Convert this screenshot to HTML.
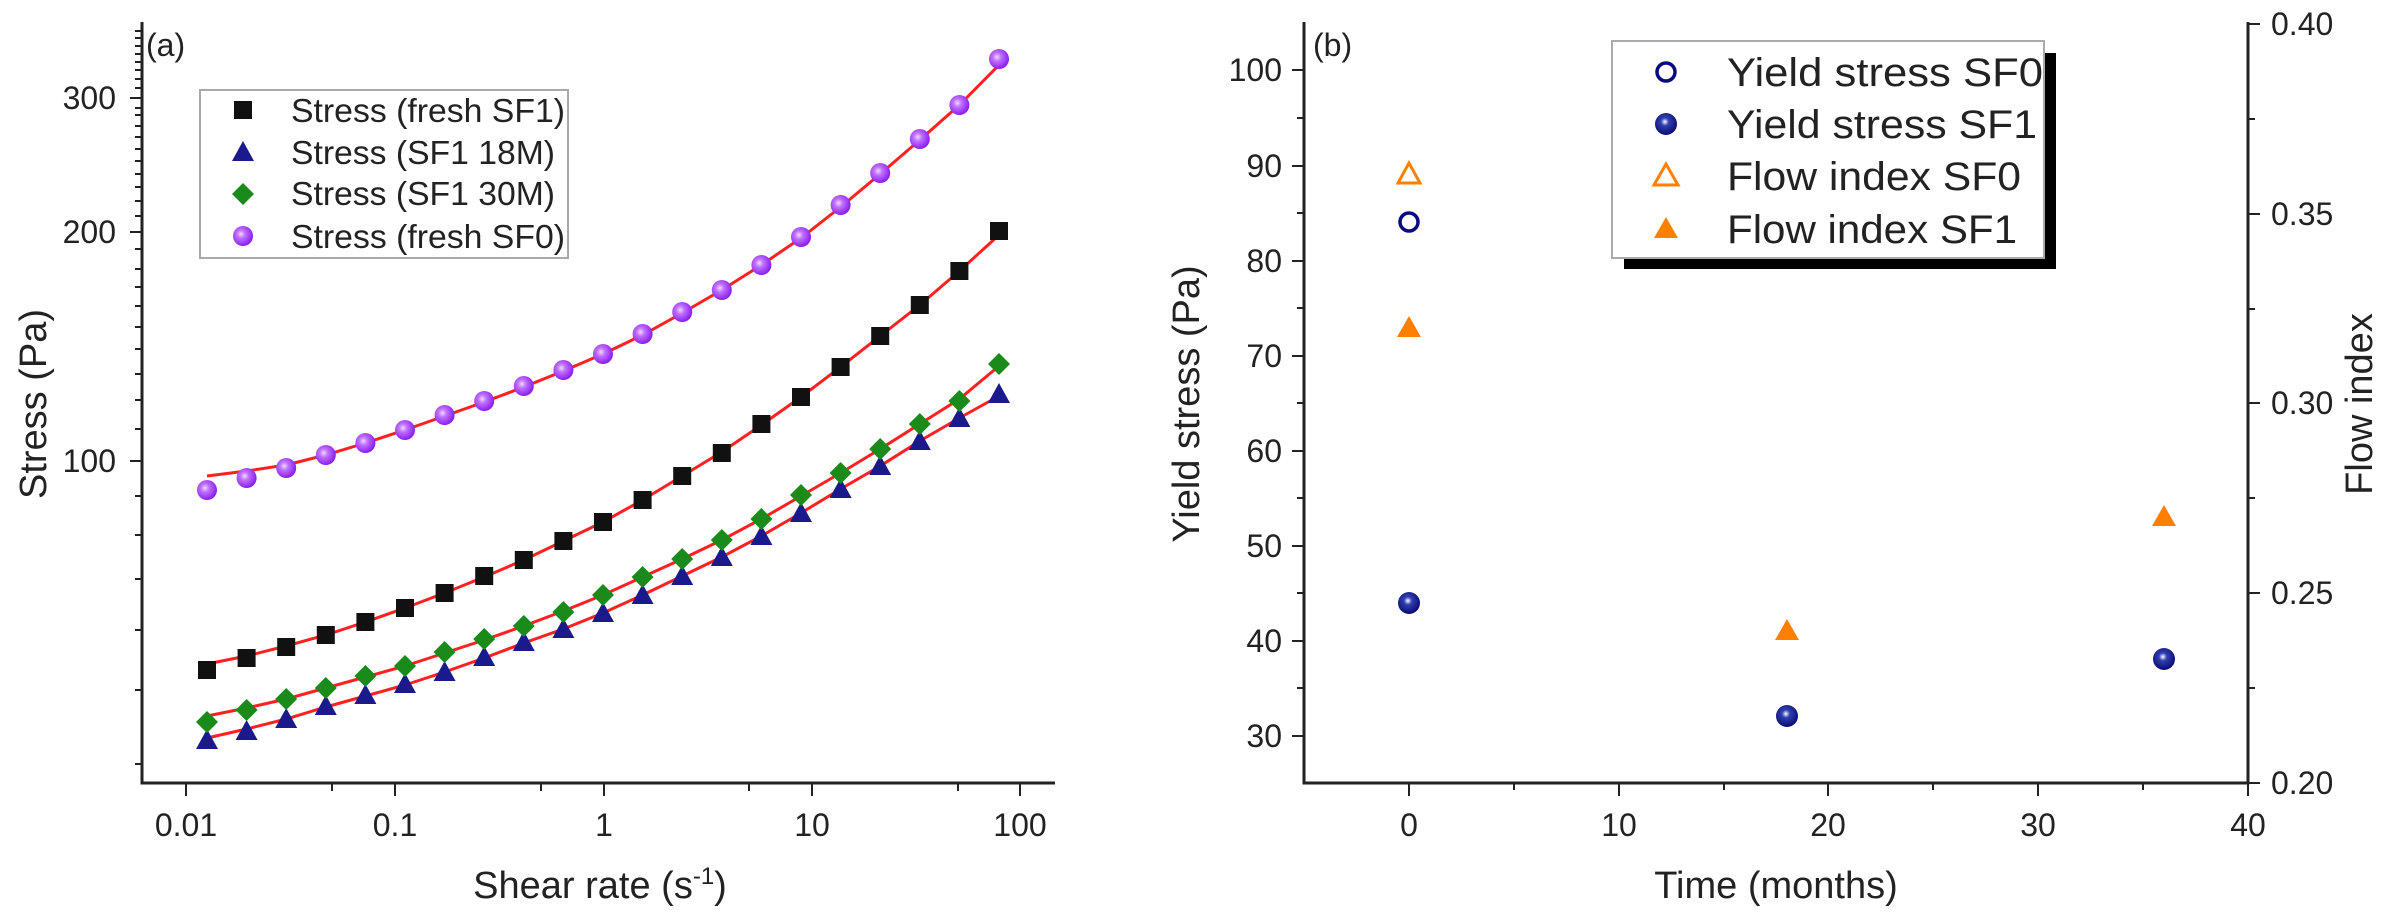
<!DOCTYPE html>
<html><head><meta charset="utf-8"><style>
html,body{margin:0;padding:0;background:#fff}
svg{display:block}
text{font-family:"Liberation Sans",Arial,sans-serif;fill:#222}
</style></head><body>
<svg width="2400" height="924" viewBox="0 0 2400 924" xmlns="http://www.w3.org/2000/svg">
<defs>
<radialGradient id="pg" cx="0.4" cy="0.4" r="0.6"><stop offset="0" stop-color="#f0d8ff"/><stop offset="0.35" stop-color="#c070ff"/><stop offset="1" stop-color="#8a20f0"/></radialGradient>
<radialGradient id="ng" cx="0.45" cy="0.4" r="0.6"><stop offset="0" stop-color="#ffffff"/><stop offset="0.3" stop-color="#3040b0"/><stop offset="1" stop-color="#0a0a70"/></radialGradient>
<rect id="sq" x="-9" y="-9" width="18" height="18" fill="#111"/>
<path id="tr" d="M0,-11 L11,9 L-11,9 Z" fill="#1a1a8c"/>
<path id="dm" d="M0,-11 L11,0 L0,11 L-11,0 Z" fill="#1a8a1a"/>
<circle id="pc" r="10" fill="url(#pg)"/>
<circle id="nc" r="11" fill="url(#ng)"/>
</defs>

<!-- LEFT PLOT -->
<g stroke="#222" stroke-width="3" fill="none">
<path d="M142,22 V783 H1055"/>
</g>
<g stroke="#222" stroke-width="2">
<path d="M130,98H142M130,232H142M130,461H142"/>
<path d="M135,764H142M135,690H142M135,630H142M135,579H142M135,535H142M135,496H142
M135,429H142M135,400H142M135,374H142M135,349H142M135,327H142M135,306H142M135,287H142M135,269H142M135,249H142
M135,216H142M135,201H142M135,187H142M135,174H142M135,161H142M135,149H142M135,137H142M135,126H142M135,115H142M135,108H142M135,88H142M135,79H142M135,70H142M135,62H142M135,54H142M135,46H142M135,38H142M135,31H142"/>
<path d="M186,783V796M395,783V796M604,783V796M812,783V796M1020,783V796"/>
<path d="M332,783V791M541,783V791M749,783V791M958,783V791"/>
</g>
<g font-size="32" text-anchor="end">
<text x="116" y="109">300</text>
<text x="116" y="243">200</text>
<text x="116" y="472">100</text>
</g>
<g font-size="32" text-anchor="middle">
<text x="186" y="836">0.01</text>
<text x="395" y="836">0.1</text>
<text x="604" y="836">1</text>
<text x="812" y="836">10</text>
<text x="1020" y="836">100</text>
</g>
<text x="600" y="898" font-size="38" text-anchor="middle">Shear rate (s<tspan font-size="24" dy="-14">-1</tspan><tspan dy="14">)</tspan></text>
<text transform="translate(46,404) rotate(-90)" font-size="38" text-anchor="middle">Stress (Pa)</text>
<text x="146" y="56" font-size="32">(a)</text>

<g stroke="#ff2020" stroke-width="3" fill="none">
<polyline points="207,476 246.6,471 286.2,465 325.8,455 365.4,443 405,430 444.6,416 484.2,402 523.8,387 563.4,371 603,354 642.6,335 682.2,313 721.8,290 761.4,265 801,238 840.6,207 880.2,174 919.8,140 959.4,105 999,65"/>
<polyline points="207,664 246.6,656 286.2,646 325.8,635 365.4,622 405,608 444.6,593 484.2,577 523.8,560 563.4,541 603,522 642.6,500 682.2,476 721.8,452 761.4,425 801,397 840.6,367 880.2,336 919.8,305 959.4,271 999,235"/>
<polyline points="207,716 246.6,708 286.2,699 325.8,688 365.4,677 405,666 444.6,653 484.2,640 523.8,626 563.4,611 603,595 642.6,577 682.2,559 721.8,540 761.4,519 801,496 840.6,473 880.2,449 919.8,424 959.4,399 999,366"/>
<polyline points="207,738 246.6,729 286.2,719 325.8,707 365.4,696 405,685 444.6,672 484.2,658 523.8,643 563.4,629 603,613 642.6,595 682.2,576 721.8,557 761.4,536 801,513 840.6,489 880.2,466 919.8,441 959.4,418 999,396"/>
</g>
<g>
<use href="#pc" x="207" y="490"/><use href="#pc" x="246.6" y="478"/><use href="#pc" x="286.2" y="468"/><use href="#pc" x="325.8" y="455"/><use href="#pc" x="365.4" y="443"/><use href="#pc" x="405" y="430"/><use href="#pc" x="444.6" y="415"/><use href="#pc" x="484.2" y="401"/><use href="#pc" x="523.8" y="386"/><use href="#pc" x="563.4" y="370"/><use href="#pc" x="603" y="354"/><use href="#pc" x="642.6" y="334"/><use href="#pc" x="682.2" y="312"/><use href="#pc" x="721.8" y="290"/><use href="#pc" x="761.4" y="265"/><use href="#pc" x="801" y="237"/><use href="#pc" x="840.6" y="205"/><use href="#pc" x="880.2" y="173"/><use href="#pc" x="919.8" y="139"/><use href="#pc" x="959.4" y="105"/><use href="#pc" x="999" y="59"/>
</g>
<g>
<use href="#sq" x="207" y="670"/><use href="#sq" x="246.6" y="658"/><use href="#sq" x="286.2" y="647"/><use href="#sq" x="325.8" y="635"/><use href="#sq" x="365.4" y="622"/><use href="#sq" x="405" y="608"/><use href="#sq" x="444.6" y="593"/><use href="#sq" x="484.2" y="576"/><use href="#sq" x="523.8" y="560"/><use href="#sq" x="563.4" y="541"/><use href="#sq" x="603" y="522"/><use href="#sq" x="642.6" y="500"/><use href="#sq" x="682.2" y="476"/><use href="#sq" x="721.8" y="453"/><use href="#sq" x="761.4" y="424"/><use href="#sq" x="801" y="397"/><use href="#sq" x="840.6" y="367"/><use href="#sq" x="880.2" y="336"/><use href="#sq" x="919.8" y="305"/><use href="#sq" x="959.4" y="271"/><use href="#sq" x="999" y="231"/>
</g>
<g>
<use href="#tr" x="207" y="740"/><use href="#tr" x="246.6" y="731"/><use href="#tr" x="286.2" y="719"/><use href="#tr" x="325.8" y="706"/><use href="#tr" x="365.4" y="695"/><use href="#tr" x="405" y="684"/><use href="#tr" x="444.6" y="672"/><use href="#tr" x="484.2" y="657"/><use href="#tr" x="523.8" y="642"/><use href="#tr" x="563.4" y="629"/><use href="#tr" x="603" y="613"/><use href="#tr" x="642.6" y="595"/><use href="#tr" x="682.2" y="576"/><use href="#tr" x="721.8" y="557"/><use href="#tr" x="761.4" y="536"/><use href="#tr" x="801" y="513"/><use href="#tr" x="840.6" y="489"/><use href="#tr" x="880.2" y="466"/><use href="#tr" x="919.8" y="441"/><use href="#tr" x="959.4" y="418"/><use href="#tr" x="999" y="394"/>
</g>
<g>
<use href="#dm" x="207" y="722"/><use href="#dm" x="246.6" y="710"/><use href="#dm" x="286.2" y="699"/><use href="#dm" x="325.8" y="688"/><use href="#dm" x="365.4" y="676"/><use href="#dm" x="405" y="666"/><use href="#dm" x="444.6" y="652"/><use href="#dm" x="484.2" y="639"/><use href="#dm" x="523.8" y="626"/><use href="#dm" x="563.4" y="612"/><use href="#dm" x="603" y="595"/><use href="#dm" x="642.6" y="577"/><use href="#dm" x="682.2" y="559"/><use href="#dm" x="721.8" y="540"/><use href="#dm" x="761.4" y="519"/><use href="#dm" x="801" y="495"/><use href="#dm" x="840.6" y="473"/><use href="#dm" x="880.2" y="449"/><use href="#dm" x="919.8" y="424"/><use href="#dm" x="959.4" y="401"/><use href="#dm" x="999" y="364"/>
</g>
<rect x="200" y="90" width="368" height="168" fill="#fff" stroke="#aaa" stroke-width="2"/>
<use href="#sq" x="243" y="110"/>
<use href="#tr" x="243" y="152"/>
<use href="#dm" x="243" y="194"/>
<use href="#pc" x="243" y="236"/>
<g font-size="33">
<text x="291" y="122" textLength="274" lengthAdjust="spacingAndGlyphs">Stress (fresh SF1)</text>
<text x="291" y="164" textLength="264" lengthAdjust="spacingAndGlyphs">Stress (SF1 18M)</text>
<text x="291" y="205" textLength="264" lengthAdjust="spacingAndGlyphs">Stress (SF1 30M)</text>
<text x="291" y="248" textLength="274" lengthAdjust="spacingAndGlyphs">Stress (fresh SF0)</text>
</g>

<!-- RIGHT PLOT -->
<g stroke="#222" stroke-width="3" fill="none">
<path d="M1304,22 V783 H2248 V22"/>
</g>
<g stroke="#222" stroke-width="2">
<path d="M1292,70H1304M1292,166H1304M1292,261H1304M1292,356H1304M1292,451H1304M1292,546H1304M1292,641H1304M1292,736H1304"/>
<path d="M1297,118H1304M1297,213H1304M1297,308H1304M1297,403H1304M1297,498H1304M1297,593H1304M1297,688H1304"/>
<path d="M1409,783V796M1619,783V796M1828,783V796M2038,783V796M2248,783V796"/>
<path d="M1514,783V790M1724,783V790M1933,783V790M2143,783V790"/>
<path d="M2248,24H2260M2248,214H2260M2248,403H2260M2248,593H2260M2248,783H2260"/>
<path d="M2248,119H2255M2248,309H2255M2248,498H2255M2248,688H2255"/>
</g>
<g font-size="32" text-anchor="end">
<text x="1282" y="81">100</text><text x="1282" y="177">90</text><text x="1282" y="272">80</text><text x="1282" y="367">70</text><text x="1282" y="462">60</text><text x="1282" y="557">50</text><text x="1282" y="652">40</text><text x="1282" y="747">30</text>
</g>
<g font-size="32" text-anchor="middle">
<text x="1409" y="836">0</text><text x="1619" y="836">10</text><text x="1828" y="836">20</text><text x="2038" y="836">30</text><text x="2248" y="836">40</text>
</g>
<g font-size="32">
<text x="2271" y="35">0.40</text><text x="2271" y="225">0.35</text><text x="2271" y="414">0.30</text><text x="2271" y="604">0.25</text><text x="2271" y="794">0.20</text>
</g>
<text x="1776" y="898" font-size="38" text-anchor="middle">Time (months)</text>
<text transform="translate(1199,404) rotate(-90)" font-size="38" text-anchor="middle">Yield stress (Pa)</text>
<text transform="translate(2372,404) rotate(-90)" font-size="38" text-anchor="middle">Flow index</text>
<text x="1313" y="56" font-size="32">(b)</text>

<path d="M1409,163 L1420,183 L1398,183 Z" fill="none" stroke="#ff8000" stroke-width="3"/>
<circle cx="1409" cy="222" r="9" fill="none" stroke="#0a0a80" stroke-width="3.5"/>
<path d="M1409,316 L1421,337 L1397,337 Z" fill="#ff8000"/>
<use href="#nc" x="1409" y="603"/>
<path d="M1787,619 L1799,640 L1775,640 Z" fill="#ff8000"/>
<use href="#nc" x="1787" y="716"/>
<path d="M2164,505 L2176,526 L2152,526 Z" fill="#ff8000"/>
<use href="#nc" x="2164" y="659"/>

<rect x="1624" y="53" width="432" height="216" fill="#000"/>
<rect x="1612" y="41" width="432" height="217" fill="#fff" stroke="#aaa" stroke-width="2"/>
<circle cx="1666" cy="72" r="9" fill="none" stroke="#0a0a80" stroke-width="3.5"/>
<use href="#nc" x="1666" y="124"/>
<path d="M1666,164 L1678,185 L1654,185 Z" fill="none" stroke="#ff8000" stroke-width="3"/>
<path d="M1666,217 L1678,238 L1654,238 Z" fill="#ff8000"/>
<g font-size="40">
<text x="1727" y="86" textLength="316" lengthAdjust="spacingAndGlyphs">Yield stress SF0</text>
<text x="1727" y="138" textLength="310" lengthAdjust="spacingAndGlyphs">Yield stress SF1</text>
<text x="1727" y="190" textLength="294" lengthAdjust="spacingAndGlyphs">Flow index SF0</text>
<text x="1727" y="243" textLength="290" lengthAdjust="spacingAndGlyphs">Flow index SF1</text>
</g>
</svg>
</body></html>
